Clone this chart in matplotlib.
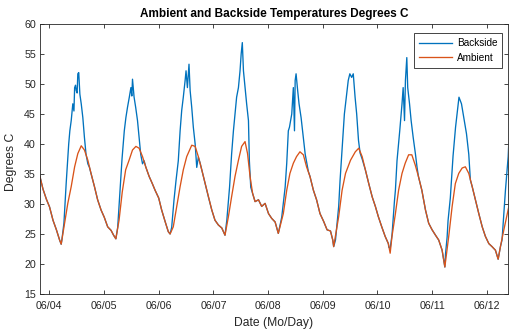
import numpy as np
import pandas as pd
import matplotlib
matplotlib.use("Agg")
import matplotlib.pyplot as plt
import matplotlib.dates as mdates


plt.rcParams.update(
    {
        "font.family": ["Liberation Sans", "DejaVu Sans"],
        "axes.linewidth": 0.6,
    }
)

START = pd.Timestamp("2017-06-04")

# hours since 06/04 00:00
AMBIENT_HOURS = [
    -4.2, -2.8, -1.3, 0.1, 1.6, 3.1, 4.5, 5.2, 6.7, 8.1, 9.6, 11.1, 12.5, 14.0,
    15.4, 16.9, 18.3, 19.8, 21.2, 22.7,
    24.1, 25.6, 27.1, 28.2, 29.2, 30.6, 32.0, 33.5, 35.0, 36.5, 38.0, 39.4,
    40.9, 42.3, 43.8, 45.2, 46.4,
    48.0, 49.3, 50.8, 52.2, 53.0, 54.4, 55.9, 57.4, 58.8, 60.3, 62.5, 64.0,
    65.4, 66.9, 68.4, 69.8, 71.3,
    72.7, 74.2, 75.7, 77.1, 78.6, 80.0, 81.5, 83.0, 84.4, 85.9, 87.0, 88.1,
    89.2, 90.3, 91.8, 93.2, 94.7,
    96.2, 97.6, 99.1, 100.5, 102.0, 102.7, 104.2, 105.6, 107.1, 108.5, 110.0,
    111.5, 112.9, 114.4, 115.9, 117.3, 118.8,
    120.4, 121.9, 123.4, 124.4, 124.8, 127.0, 128.5, 130.0, 132.2, 134.3,
    135.8, 137.3, 138.7, 140.2, 141.7, 143.1,
    144.4, 145.9, 147.4, 148.8, 149.6, 150.4, 151.9, 153.3, 154.8, 156.2,
    157.7, 159.1, 160.6, 162.0, 163.5, 165.1, 166.5,
    168.0, 169.5, 170.9, 172.4, 173.6, 175.3, 176.8, 178.2, 179.7, 181.2,
    182.6, 184.1, 185.6, 187.0, 188.5, 190.0, 191.4,
    192.9, 194.3, 195.8, 197.0, 198.0, 199.5, 201.7,
]
AMBIENT_TEMP = [
    34.7, 32.5, 30.8, 29.5, 27.3, 25.7, 24.0, 23.3, 26.8, 30.1, 32.9, 36.2, 38.4, 39.7,
    39.0, 37.3, 35.1, 32.9, 30.7, 29.0,
    27.8, 26.2, 25.6, 24.8, 24.2, 27.3, 32.0, 35.7, 37.3, 39.0, 39.6, 39.3,
    37.9, 36.2, 34.6, 33.4, 32.3,
    31.0, 29.0, 27.1, 25.4, 25.0, 26.2, 29.6, 32.9, 35.7, 37.9, 39.8, 39.6,
    37.9, 35.7, 33.4, 31.2, 29.0,
    27.3, 26.5, 26.0, 24.8, 27.9, 31.2, 34.6, 37.3, 39.6, 40.4, 38.4, 34.6,
    31.8, 30.4, 30.7, 29.6, 30.1,
    28.4, 27.6, 27.0, 25.1, 27.3, 28.4, 32.3, 35.1, 36.8, 37.9, 38.7,
    38.2, 36.2, 34.6, 32.3, 30.7, 28.4,
    27.1, 25.7, 25.5, 24.0, 22.9, 27.9, 32.3, 35.1, 37.3, 38.7,
    39.3, 37.9, 35.7, 33.4, 31.2, 29.6,
    27.9, 26.2, 24.6, 23.4, 21.8, 24.6, 28.4, 32.3, 35.1, 36.8,
    38.2, 38.2, 36.5, 34.6, 32.3, 29.0, 26.8,
    25.7, 24.8, 24.0, 22.3, 19.5, 24.6, 29.6, 33.4, 35.1, 36.0,
    36.2, 35.1, 32.9, 30.7, 28.4, 26.2, 24.6,
    23.4, 22.9, 22.3, 20.8, 22.9, 25.7, 29.6,
]

# backside only where it leaves the ambient curve (daytime)
BACKSIDE_HOURS = [
    5.5, 6.4, 7.4, 8.0, 8.5, 9.0, 9.6, 10.3, 10.8, 11.1, 11.5, 11.8, 12.2, 12.5,
    12.9, 13.4, 14.0, 14.7, 15.4, 16.1, 16.9, 17.6, 18.3,
    30.0, 31.1, 31.9, 32.9, 33.6, 34.3, 35.1, 35.8, 36.2, 36.5, 37.2, 37.9,
    38.7, 39.4, 40.1, 40.9, 41.6, 42.3,
    53.7, 54.7, 55.6, 56.6, 57.4, 58.1, 58.8, 59.6, 60.0, 60.6, 61.3, 61.8,
    62.5, 63.2, 64.0, 64.7, 65.4, 66.2,
    77.9, 79.1, 80.0, 80.8, 81.5, 82.2, 83.0, 83.7, 84.2, 84.7, 85.2, 85.9,
    86.6, 87.4, 87.8, 88.4, 89.2,
    102.0, 103.5, 104.2, 104.9, 105.4, 106.4, 107.1, 107.6, 107.9, 108.3,
    109.0, 109.6, 110.5, 111.5, 112.3, 113.7,
    125.6, 127.0, 127.6, 128.4, 129.5, 130.5, 131.2, 131.9, 132.7, 133.4,
    134.2, 134.9, 135.7, 136.4, 137.3, 138.7,
    149.0, 149.6, 150.4, 151.5, 151.9, 152.6, 153.8, 154.8, 155.3, 155.9,
    156.3, 156.9, 157.3, 158.1, 158.8, 159.7, 160.7, 161.4, 162.0,
    173.9, 174.6, 175.0, 176.0, 177.2, 178.3, 179.3, 179.8, 180.9, 181.9,
    183.1, 184.1, 184.8,
    198.7, 200.2, 201.4, 201.7,
]
BACKSIDE_TEMP = [
    24.0, 26.8, 33.5, 37.0, 40.0, 42.2, 43.9, 46.7, 45.5, 49.4, 49.8, 48.9, 48.5, 51.7,
    51.9, 48.3, 46.7, 44.4, 41.1, 38.3, 36.7, 36.1, 35.1,
    26.1, 32.8, 37.5, 42.2, 44.4, 46.1, 47.8, 49.4, 48.0, 50.8, 47.8, 46.1,
    43.9, 41.1, 38.3, 36.7, 37.2, 36.2,
    26.1, 30.6, 33.9, 37.2, 42.2, 45.6, 47.8, 50.6, 52.2, 49.4, 53.3, 48.9,
    46.1, 42.8, 40.0, 36.1, 37.8, 36.8,
    27.3, 32.8, 38.3, 42.2, 45.0, 47.8, 49.4, 52.2, 55.0, 56.9, 52.2, 49.4,
    46.7, 43.9, 37.2, 32.8, 31.8,
    27.8, 32.8, 36.8, 42.2, 42.8, 45.0, 49.4, 42.2, 50.6, 51.7,
    48.9, 46.7, 44.4, 41.1, 38.3, 35.4,
    24.0, 29.6, 33.9, 38.5, 45.0, 48.3, 50.6, 51.7, 51.1, 51.7,
    47.8, 45.0, 40.6, 38.5, 37.5, 35.7,
    22.8, 22.6, 24.8, 30.6, 32.3, 37.2, 42.2, 46.7, 49.4, 43.9,
    50.6, 54.4, 49.4, 46.7, 43.9, 41.1, 38.3, 36.1, 34.6,
    21.7, 24.5, 27.2, 31.0, 38.0, 42.8, 46.1, 47.8, 46.7, 44.4,
    41.7, 38.3, 34.0,
    24.0, 32.3, 37.9, 40.5,
]

X_START_HOURS = -4.1
X_END_HOURS = 201.1


def build_backside():
    amb_h = np.array(AMBIENT_HOURS)
    amb_t = np.array(AMBIENT_TEMP)
    bs_h = np.array(BACKSIDE_HOURS)
    bs_t = np.array(BACKSIDE_TEMP)

    # split the daytime pieces where there is a big gap
    breaks = np.where(np.diff(bs_h) > 4)[0] + 1
    keep = np.ones(len(amb_h), dtype=bool)
    for piece in np.split(bs_h, breaks):
        keep &= ~((amb_h >= piece.min()) & (amb_h <= piece.max()))

    hours = np.concatenate([amb_h[keep], bs_h])
    temps = np.concatenate([amb_t[keep], bs_t])
    order = np.argsort(hours, kind="stable")
    return hours[order], temps[order]


def to_time(hours):
    return START + pd.to_timedelta(np.asarray(hours), unit="h")


bs_hours, bs_temps = build_backside()

fig = plt.figure(figsize=(5.09, 3.31), dpi=100)
ax = fig.add_axes([40 / 509, 37 / 331, 467.5 / 509, 270 / 331])

ax.plot(to_time(bs_hours), bs_temps, color="#0072BD", lw=0.95, label="Backside")
ax.plot(to_time(AMBIENT_HOURS), AMBIENT_TEMP, color="#D95319", lw=0.95, label="Ambient")

ax.set_xlim(START + pd.Timedelta(hours=X_START_HOURS), START + pd.Timedelta(hours=X_END_HOURS))
ax.set_ylim(15, 60)
ax.set_yticks(np.arange(15, 61, 5))
ax.xaxis.set_major_locator(mdates.DayLocator())
ax.xaxis.set_major_formatter(mdates.DateFormatter("%m/%d"))

ax.tick_params(
    direction="in", top=True, right=True, length=3, width=0.6,
    colors="#262626", labelsize=7.7,
)
ax.tick_params(axis="x", pad=5)
ax.tick_params(axis="y", pad=3)
for side in ax.spines.values():
    side.set_color("#262626")

ax.set_title("Ambient and Backside Temperatures Degrees C", fontsize=8.5,
             fontweight="bold", pad=5)
ax.set_xlabel("Date (Mo/Day)", fontsize=8.7, color="#262626")
ax.set_ylabel("Degrees C", fontsize=8.7, color="#262626")
ax.xaxis.set_label_coords(0.5, -0.085)
ax.yaxis.set_label_coords(-0.05, 0.49)

leg = ax.legend(
    loc="upper right", bbox_to_anchor=(0.9886, 0.9656), fontsize=7.2,
    frameon=True, fancybox=False, edgecolor="#262626", framealpha=1,
    handlelength=3.3, handletextpad=0.45, borderpad=0.5, labelspacing=0.45,
    borderaxespad=0,
)
leg.get_frame().set_linewidth(0.6)

fig.savefig("out.png", dpi=100)
